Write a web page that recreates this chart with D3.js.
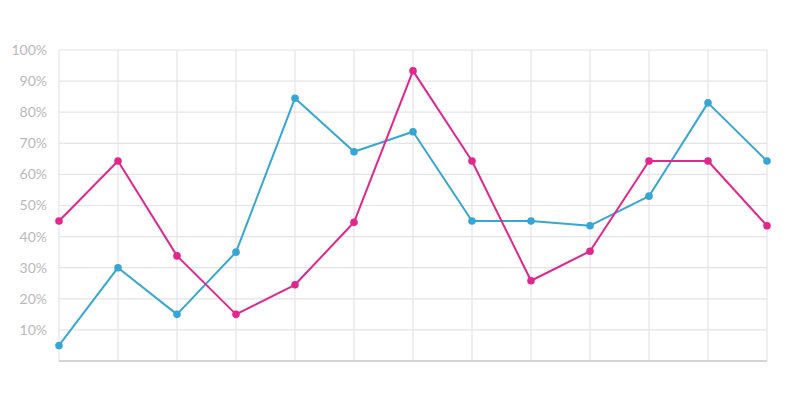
<!DOCTYPE html>
<html>
<head>
<meta charset="utf-8">
<script src="https://cdn.jsdelivr.net/npm/d3@7"></script>
<style>
  body { margin: 0; background: #fff; }
  .tick text { font-family: "Lato", "Open Sans", sans-serif; }
</style>
</head>
<body>
<script>
'use strict';

// 13 unlabeled steps along x
const steps = [1, 2, 3, 4, 5, 6, 7, 8, 9, 10, 11, 12, 13];
// percentages
const blueSeries = [5, 30, 15, 35, 84.5, 67.3, 73.7, 45, 45, 43.5, 53, 83, 64.3];
const pinkSeries = [45, 64.3, 33.8, 15, 24.5, 44.6, 93.3, 64.3, 25.8, 35.3, 64.3, 64.3, 43.5];
const yTicks = [10, 20, 30, 40, 50, 60, 70, 80, 90, 100];

const width = 800, height = 400;
const margin = { top: 50, right: 33, bottom: 39, left: 59 };

const svg = d3.select('body')
  .append('svg')
  .attr('width', width)
  .attr('height', height);

const x = d3.scalePoint()
  .domain(steps)
  .range([margin.left, width - margin.right]);

const y = d3.scaleLinear()
  .domain([0, 100])
  .range([height - margin.bottom, margin.top]);

// horizontal grid
svg.append('g')
  .selectAll('line')
  .data(yTicks)
  .enter()
  .append('line')
    .attr('x1', margin.left)
    .attr('x2', width - margin.right)
    .attr('y1', d => y(d))
    .attr('y2', d => y(d))
    .attr('stroke', '#e4e4e8')
    .attr('stroke-width', 1.2);

// vertical grid
svg.append('g')
  .selectAll('line')
  .data(steps)
  .enter()
  .append('line')
    .attr('x1', d => x(d))
    .attr('x2', d => x(d))
    .attr('y1', y(100))
    .attr('y2', y(0))
    .attr('stroke', '#e4e4e8')
    .attr('stroke-width', 1.2);

// y axis labels
const yAxis = d3.axisLeft(y)
  .tickValues(yTicks)
  .tickFormat(d => d + '%')
  .tickSize(0)
  .tickPadding(12);

svg.append('g')
  .attr('transform', `translate(${margin.left}, 0)`)
  .call(yAxis)
  .call(g => g.select('.domain').remove())
  .call(g => g.selectAll('text')
    .attr('fill', '#b9b9b9')
    .style('font-size', '14px'));

// bottom axis line
svg.append('line')
  .attr('x1', margin.left)
  .attr('x2', width - margin.right)
  .attr('y1', y(0))
  .attr('y2', y(0))
  .attr('stroke', '#d4d4d8')
  .attr('stroke-width', 2);

const line = d3.line()
  .x((d, i) => x(steps[i]))
  .y(d => y(d));

function drawSeries(values, color) {
  svg.append('path')
    .datum(values)
    .attr('fill', 'none')
    .attr('stroke', color)
    .attr('stroke-width', 2)
    .attr('stroke-linejoin', 'round')
    .attr('d', line);

  svg.append('g')
    .selectAll('circle')
    .data(values)
    .enter()
    .append('circle')
      .attr('cx', (d, i) => x(steps[i]))
      .attr('cy', d => y(d))
      .attr('r', 3.8)
      .attr('fill', color);
}

drawSeries(blueSeries, '#36a6d4');
drawSeries(pinkSeries, '#e3268e');
</script>
</body>
</html>
